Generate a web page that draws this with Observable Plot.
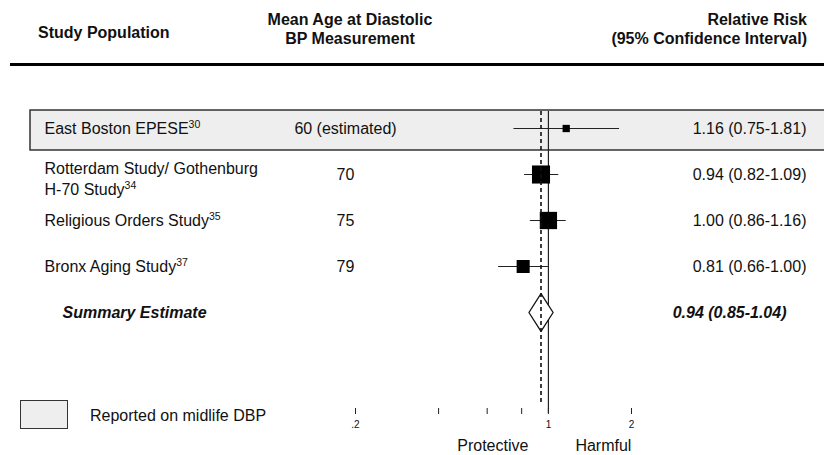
<!DOCTYPE html>
<html>
<head>
<meta charset="utf-8">
<script src="https://cdn.jsdelivr.net/npm/d3@7"></script>
<script src="https://cdn.jsdelivr.net/npm/@observablehq/plot@0.6"></script>
<style>
  html, body { margin: 0; padding: 0; background: #fff; }
  #wrap { position: relative; width: 824px; height: 455px; font-family: "Liberation Sans", Arial, sans-serif; color: #111; }
  #header { position: relative; width: 824px; height: 70px; font-weight: bold; font-size: 16px; line-height: 19px; }
  #header div { position: absolute; white-space: nowrap; }
  #legend { position: absolute; left: 20px; top: 400px; width: 300px; height: 31px; font-size: 16px; }
  #legend .swatch { position: absolute; left: 0; top: 0; width: 46px; height: 27px; border: 1.5px solid #333; background: #eeeeee; }
  #legend span { position: absolute; left: 70px; top: 7px; line-height: 18px; white-space: nowrap; }
</style>
</head>
<body>
<div id="wrap">
  <div id="header">
    <div style="left:38px;top:23px;">Study Population</div>
    <div style="left:200px;width:300px;text-align:center;top:10px;">Mean Age at Diastolic<br>BP Measurement</div>
    <div style="right:17px;top:10px;text-align:right;">Relative Risk<br>(95% Confidence Interval)</div>
    <div style="left:10px;right:0;top:63px;height:3px;background:#000;"></div>
  </div>
  <div id="chart"></div>
  <div id="legend"><div class="swatch"></div><span>Reported on midlife DBP</span></div>
</div>
<script>
// ---- data ----
const studies = [
  "East Boston EPESE^30",
  "Rotterdam Study/ Gothenburg\nH-70 Study^34",
  "Religious Orders Study^35",
  "Bronx Aging Study^37"
];
const ages = ["60 (estimated)", "70", "75", "79"];
const rrEst = [1.16, 0.94, 1.00, 0.81];
const rrLo = [0.75, 0.82, 0.86, 0.66];
const rrHi = [1.81, 1.09, 1.16, 1.00];
const midlife = [true, false, false, false];
const summaryLabel = "Summary Estimate";
const summaryEst = 0.94;
const summaryLo = 0.85;
const summaryHi = 1.04;
const xTicks = [0.2, 0.4, 0.6, 0.8, 1, 2];
const xTickLabels = [".2", "", "", "", "1", "2"];
const effectLabels = ["Protective", "Harmful"];

// ---- derived table ----
const fmt = d3.format(".2f");
const rows = studies.map((name, i) => {
  const se = (Math.log(rrHi[i]) - Math.log(rrLo[i])) / (2 * 1.96);
  return {
    row: i, name, age: ages[i], est: rrEst[i], lo: rrLo[i], hi: rrHi[i],
    midlife: midlife[i], weight: 1 / (se * se),
    label: `${fmt(rrEst[i])} (${fmt(rrLo[i])}-${fmt(rrHi[i])})`
  };
});
const sRow = studies.length;
const summary = [{row: sRow, name: summaryLabel, est: summaryEst, lo: summaryLo, hi: summaryHi,
  label: `${fmt(summaryEst)} (${fmt(summaryLo)}-${fmt(summaryHi)})`}];
const diamond = [
  {x: summaryLo, y: sRow},
  {x: summaryEst, y: sRow - 0.41},
  {x: summaryHi, y: sRow},
  {x: summaryEst, y: sRow + 0.41}
];
const maxW = d3.max(rows, d => d.weight);
const tickLabel = new Map(xTicks.map((t, i) => [t, xTickLabels[i]]));
const oneLine = rows.filter(d => !d.name.includes("\n"));
const twoLine = rows.filter(d => d.name.includes("\n"));

const chart = Plot.plot({
  width: 824,
  height: 385,
  marginTop: 0, marginLeft: 0, marginRight: 0, marginBottom: 47,
  style: {fontFamily: "'Liberation Sans', Arial, sans-serif", fontSize: "16px", color: "#111", background: "transparent", overflow: "visible"},
  x: {type: "log", domain: [0.2, 2], range: [355, 631]},
  y: {domain: [0, 4], range: [58, 242], axis: null},
  r: {type: "sqrt", domain: [0, maxW], range: [1.2, 10.2]},
  marks: [
    Plot.rect(rows.filter(d => d.midlife), {
      y1: d => d.row - 0.391, y2: d => d.row + 0.478,
      insetLeft: 30, insetRight: -2,
      fill: "#eeeeee", stroke: "#333", strokeWidth: 1.5
    }),
    Plot.axisX({ticks: xTicks, tickFormat: d => tickLabel.get(d), tickSize: 6, tickPadding: 6, fontSize: 10, stroke: "#222", label: null}),
    Plot.ruleX([1], {insetTop: 41, insetBottom: -5, stroke: "#222", strokeWidth: 1.2}),
    Plot.ruleY(rows, {y: "row", x1: "lo", x2: "hi", stroke: "#222", strokeWidth: 1.2}),
    Plot.dot(rows, {x: "est", y: "row", r: "weight", symbol: "square", fill: "#000", stroke: null}),
    Plot.line(diamond, {x: "x", y: "y", curve: "linear-closed", fill: "white", stroke: "#111", strokeWidth: 1.3}),
    Plot.ruleX([summaryEst], {insetTop: 41, insetBottom: 3, stroke: "#111", strokeWidth: 1.6, strokeDasharray: "4,3"}),
    // text columns
    Plot.text(oneLine, {y: "row", text: "name", frameAnchor: "left", dx: 44, textAnchor: "start", fill: "#111"}),
    Plot.text(twoLine, {y: "row", text: "name", frameAnchor: "left", dx: 44, dy: 3, textAnchor: "start", lineHeight: 1.3, fill: "#111"}),
    Plot.text(rows, {y: "row", text: "age", frameAnchor: "left", dx: 345, textAnchor: "middle", fill: "#111"}),
    Plot.text(rows, {y: "row", text: "label", frameAnchor: "left", dx: 806, textAnchor: "end", fill: "#111"}),
    Plot.text(summary, {y: "row", text: "name", frameAnchor: "left", dx: 62, textAnchor: "start", fontWeight: "bold", fontStyle: "italic", fill: "#111"}),
    Plot.text(summary, {y: "row", text: "label", frameAnchor: "left", dx: 786, textAnchor: "end", fontWeight: "bold", fontStyle: "italic", fill: "#111"}),
    // effect direction labels
    Plot.text([effectLabels[0]], {x: () => 1, text: d => d, frameAnchor: "bottom", dy: 42, dx: -20, textAnchor: "end", fill: "#111"}),
    Plot.text([effectLabels[1]], {x: () => 1, text: d => d, frameAnchor: "bottom", dy: 42, dx: 27, textAnchor: "start", fill: "#111"})
  ]
});

// superscripts: "name^30" -> name + raised small tspan
function superscripts(root) {
  const walker = document.createTreeWalker(root, NodeFilter.SHOW_TEXT);
  const nodes = [];
  while (walker.nextNode()) if (walker.currentNode.nodeValue.includes("^")) nodes.push(walker.currentNode);
  for (const n of nodes) {
    const [base, sup] = n.nodeValue.split("^");
    const t = document.createElementNS("http://www.w3.org/2000/svg", "tspan");
    t.setAttribute("font-size", "10.5");
    t.setAttribute("dy", "-0.5em");
    t.textContent = sup;
    n.nodeValue = base;
    n.parentNode.insertBefore(t, n.nextSibling);
  }
}
superscripts(chart);
document.getElementById("chart").appendChild(chart);
</script>
</body>
</html>
